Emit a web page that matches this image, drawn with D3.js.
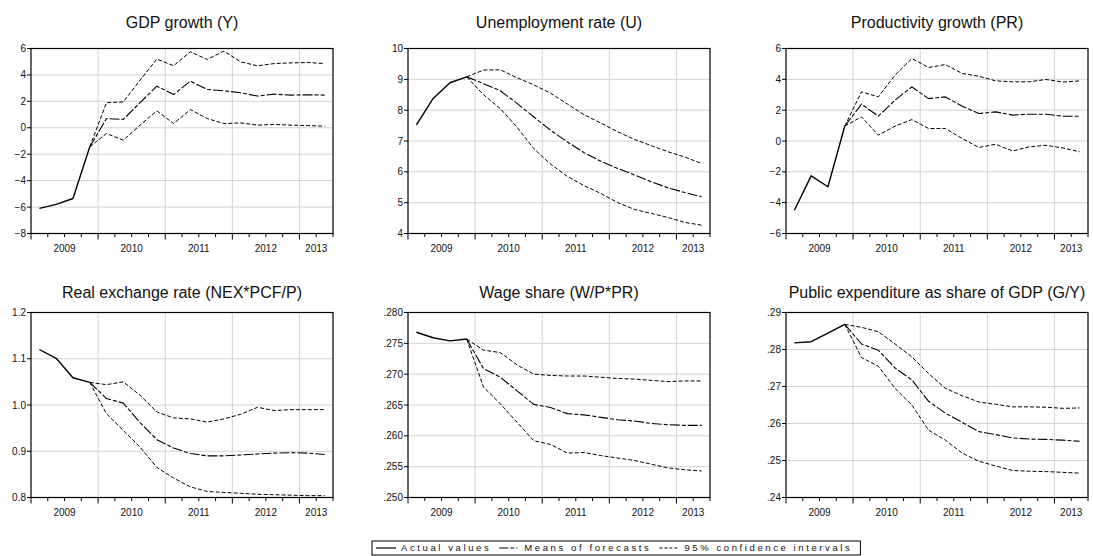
<!DOCTYPE html>
<html>
<head>
<meta charset="utf-8">
<script src="https://cdn.jsdelivr.net/npm/d3@7"></script>
<style>
    html, body { margin: 0; padding: 0; background: #fff; }
    svg { display: block; font-family: "Liberation Sans", Arial, sans-serif; }
</style>
</head>
<body>
<svg id="chart" width="1093" height="556"></svg>
<script>
// ---- data (quarterly, 2009Q1 .. 2013Q2) --------------------------
const quarters = ["2009Q1", "2009Q2", "2009Q3", "2009Q4",
                  "2010Q1", "2010Q2", "2010Q3", "2010Q4",
                  "2011Q1", "2011Q2", "2011Q3", "2011Q4",
                  "2012Q1", "2012Q2", "2012Q3", "2012Q4",
                  "2013Q1", "2013Q2"];
const years = ["2009", "2010", "2011", "2012", "2013"];

// actual values: 2009Q1..2009Q4; forecasts: 2009Q4..2013Q2
const gdpActual = [-6.1, -5.8, -5.35, -1.45];
const gdpMean   = [-1.45, 0.7, 0.63, 1.9, 3.15, 2.52, 3.53, 2.9, 2.8, 2.65, 2.4, 2.55, 2.47, 2.5, 2.47];
const gdpUpper  = [-1.45, 1.9, 1.96, 3.6, 5.2, 4.7, 5.75, 5.17, 5.8, 4.99, 4.69, 4.86, 4.91, 4.94, 4.86];
const gdpLower  = [-1.45, -0.43, -0.94, 0.2, 1.28, 0.32, 1.38, 0.7, 0.32, 0.37, 0.2, 0.25, 0.2, 0.17, 0.12];
const gdpTicks  = [-8, -6, -4, -2, 0, 2, 4, 6];

const uActual = [7.52, 8.38, 8.89, 9.08];
const uMean   = [9.08, 8.86, 8.63, 8.22, 7.78, 7.35, 6.97, 6.62, 6.34, 6.11, 5.9, 5.68, 5.48, 5.33, 5.19];
const uUpper  = [9.08, 9.3, 9.31, 9.05, 8.82, 8.55, 8.2, 7.85, 7.58, 7.3, 7.05, 6.85, 6.65, 6.48, 6.27];
const uLower  = [9.08, 8.5, 8.05, 7.45, 6.75, 6.25, 5.85, 5.55, 5.3, 5.0, 4.78, 4.65, 4.52, 4.36, 4.27];
const uTicks  = [4, 5, 6, 7, 8, 9, 10];

const prActual = [-4.49, -2.26, -2.97, 0.96];
const prMean   = [0.96, 2.39, 1.61, 2.65, 3.51, 2.75, 2.86, 2.26, 1.78, 1.89, 1.68, 1.74, 1.74, 1.61, 1.61];
const prUpper  = [0.96, 3.19, 2.86, 4.27, 5.35, 4.77, 4.96, 4.38, 4.2, 3.9, 3.84, 3.84, 3.99, 3.82, 3.9];
const prLower  = [0.96, 1.57, 0.38, 0.96, 1.39, 0.81, 0.81, 0.16, -0.42, -0.21, -0.65, -0.38, -0.28, -0.45, -0.7];
const prTicks  = [-6, -4, -2, 0, 2, 4, 6];

const rerActual = [1.120, 1.101, 1.059, 1.049];
const rerMean   = [1.049, 1.014, 1.004, 0.962, 0.925, 0.907, 0.895, 0.890, 0.890, 0.892, 0.894, 0.896, 0.897, 0.896, 0.893];
const rerUpper  = [1.049, 1.044, 1.050, 1.021, 0.985, 0.972, 0.970, 0.963, 0.970, 0.980, 0.995, 0.988, 0.990, 0.990, 0.990];
const rerLower  = [1.049, 0.981, 0.945, 0.909, 0.865, 0.842, 0.823, 0.813, 0.811, 0.809, 0.807, 0.806, 0.805, 0.804, 0.804];
const rerTicks  = [0.8, 0.9, 1.0, 1.1, 1.2];

const wsActual = [0.2768, 0.2759, 0.2754, 0.2757];
const wsMean   = [0.2757, 0.2709, 0.2695, 0.2673, 0.2651, 0.2646, 0.2636, 0.2634, 0.2630, 0.2626, 0.2624, 0.2620, 0.2618, 0.2617, 0.2617];
const wsUpper  = [0.2757, 0.2739, 0.2735, 0.2715, 0.2700, 0.2698, 0.2697, 0.2697, 0.2695, 0.2693, 0.2692, 0.2690, 0.2688, 0.2689, 0.2689];
const wsLower  = [0.2757, 0.2679, 0.2652, 0.2622, 0.2592, 0.2586, 0.2572, 0.2573, 0.2568, 0.2564, 0.2560, 0.2554, 0.2548, 0.2545, 0.2543];
const wsTicks  = [0.250, 0.255, 0.260, 0.265, 0.270, 0.275, 0.280];

const gyActual = [0.2818, 0.2821, 0.2844, 0.2868];
const gyMean   = [0.2868, 0.2815, 0.2798, 0.2750, 0.2718, 0.2660, 0.2628, 0.2603, 0.2578, 0.2570, 0.2561, 0.2558, 0.2557, 0.2555, 0.2552];
const gyUpper  = [0.2868, 0.2860, 0.2848, 0.2815, 0.2780, 0.2735, 0.2695, 0.2675, 0.2658, 0.2652, 0.2645, 0.2645, 0.2644, 0.2641, 0.2642];
const gyLower  = [0.2868, 0.2778, 0.2755, 0.2695, 0.2650, 0.2582, 0.2555, 0.2520, 0.2498, 0.2485, 0.2473, 0.2471, 0.2470, 0.2468, 0.2466];
const gyTicks  = [0.24, 0.25, 0.26, 0.27, 0.28, 0.29];

const legendLabels = ["Actual values", "Means of forecasts", "95% confidence intervals"];

// ---- panel setup ------------------------------------------------
const noLead = f => d => f(d).replace(/^0\./, ".");
const panels = [
    { title: "GDP growth (Y)", a: gdpActual, m: gdpMean, u: gdpUpper, l: gdpLower, ticks: gdpTicks, fmt: d3.format("d") },
    { title: "Unemployment rate (U)", a: uActual, m: uMean, u: uUpper, l: uLower, ticks: uTicks, fmt: d3.format("d") },
    { title: "Productivity growth (PR)", a: prActual, m: prMean, u: prUpper, l: prLower, ticks: prTicks, fmt: d3.format("d") },
    { title: "Real exchange rate (NEX*PCF/P)", a: rerActual, m: rerMean, u: rerUpper, l: rerLower, ticks: rerTicks, fmt: d3.format(".1f") },
    { title: "Wage share (W/P*PR)", a: wsActual, m: wsMean, u: wsUpper, l: wsLower, ticks: wsTicks, fmt: noLead(d3.format(".3f")) },
    { title: "Public expenditure as share of GDP (G/Y)", a: gyActual, m: gyMean, u: gyUpper, l: gyLower, ticks: gyTicks, fmt: noLead(d3.format(".2f")) }
];

const COL_X = [31, 408, 786];
const ROW_Y = [48.5, 312.5];
const TITLE_Y = [28, 298];
const PW = 302, PH = 185;
const FORECAST_START = 3;   // forecasts branch off at 2009Q4

const STYLE = {
    actual: { w: 1.4, dash: null },
    mean:   { w: 1.1, dash: "10,2,4,2" },
    ci:     { w: 1.0, dash: "4,2" }
};

const svg = d3.select("#chart");

panels.forEach((p, k) => {
    const x0 = COL_X[k % 3], y0 = ROW_Y[Math.floor(k / 3)];
    const x = d3.scaleLinear().domain([0, quarters.length]).range([x0, x0 + PW]);
    const y = d3.scaleLinear().domain(d3.extent(p.ticks)).range([y0 + PH, y0]);
    const g = svg.append("g");

    // title
    g.append("text")
        .attr("x", x0 + PW / 2).attr("y", TITLE_Y[Math.floor(k / 3)])
        .attr("text-anchor", "middle")
        .attr("font-size", 16)
        .attr("fill", "#111")
        .text(p.title);

    // grid
    g.append("g").selectAll("line")
        .data(p.ticks.slice(1, -1))
        .join("line")
        .attr("x1", x0).attr("x2", x0 + PW)
        .attr("y1", d => y(d)).attr("y2", d => y(d))
        .attr("stroke", "#d2d2d2").attr("stroke-width", 1);
    g.append("g").selectAll("line")
        .data(d3.range(4, quarters.length, 4))
        .join("line")
        .attr("x1", d => x(d)).attr("x2", d => x(d))
        .attr("y1", y0).attr("y2", y0 + PH)
        .attr("stroke", "#d2d2d2").attr("stroke-width", 1);

    // series
    const line = off => d3.line()
        .x((d, i) => x(i + off + 0.5))
        .y(d => y(d));
    const draw = (data, off, st) => g.append("path")
        .attr("d", line(off)(data))
        .attr("fill", "none")
        .attr("stroke", "#000")
        .attr("stroke-width", st.w)
        .attr("stroke-dasharray", st.dash)
        .attr("stroke-linejoin", "round");
    draw(p.u, FORECAST_START, STYLE.ci);
    draw(p.l, FORECAST_START, STYLE.ci);
    draw(p.m, FORECAST_START, STYLE.mean);
    draw(p.a, 0, STYLE.actual);

    // frame
    g.append("rect")
        .attr("x", x0).attr("y", y0).attr("width", PW).attr("height", PH)
        .attr("fill", "none").attr("stroke", "#000").attr("stroke-width", 1.2);

    // y axis ticks + labels
    const yt = g.append("g").selectAll("g").data(p.ticks).join("g");
    yt.append("line")
        .attr("x1", x0 - 4).attr("x2", x0)
        .attr("y1", d => y(d)).attr("y2", d => y(d))
        .attr("stroke", "#000");
    yt.append("text")
        .attr("x", x0 - 5).attr("y", d => y(d))
        .attr("dy", "0.35em")
        .attr("text-anchor", "end")
        .attr("font-size", 10)
        .attr("fill", "#111")
        .text(d => p.fmt(d));

    // x axis: quarter minor ticks, year major ticks
    g.append("g").selectAll("line")
        .data(d3.range(0, quarters.length + 1))
        .join("line")
        .attr("x1", d => x(d)).attr("x2", d => x(d))
        .attr("y1", y0 + PH)
        .attr("y2", d => y0 + PH + (d % 4 === 0 ? 6 : 3.5))
        .attr("stroke", "#000");

    years.forEach((yr, j) => {
        const s = j * 4, e = Math.min(s + 4, quarters.length);
        const t = g.append("text")
            .attr("y", y0 + PH + 18.5)
            .attr("text-anchor", "middle")
            .attr("font-size", 10)
            .attr("fill", "#111")
            .text(yr);
        const w = t.node().getComputedTextLength();
        t.attr("x", Math.min(x((s + e) / 2), x0 + PW + 1 - w / 2));
    });
});

// ---- legend -----------------------------------------------------
(function legend() {
    const lx = 372, ly = 541, lh = 14;
    const lg = svg.append("g");
    const box = lg.append("rect")
        .attr("x", lx).attr("y", ly).attr("height", lh)
        .attr("fill", "#fff").attr("stroke", "#000").attr("stroke-width", 1);
    let cx = lx + 4;
    legendLabels.forEach((lab, i) => {
        lg.append("line")
            .attr("x1", cx).attr("x2", cx + 20)
            .attr("y1", ly + lh / 2).attr("y2", ly + lh / 2)
            .attr("stroke", "#000")
            .attr("stroke-width", i === 0 ? 1.2 : 1)
            .attr("stroke-dasharray", i === 1 ? "9,2,4,2,1,2" : (i === 2 ? "3,2" : null));
        const t = lg.append("text")
            .attr("x", cx + 25).attr("y", ly + lh / 2)
            .attr("dy", "0.35em")
            .attr("font-size", 9.5)
            .attr("letter-spacing", "2.6px")
            .attr("fill", "#111")
            .text(lab);
        cx += 25 + t.node().getComputedTextLength() + 8;
    });
    box.attr("width", cx - lx);
})();
</script>
</body>
</html>
